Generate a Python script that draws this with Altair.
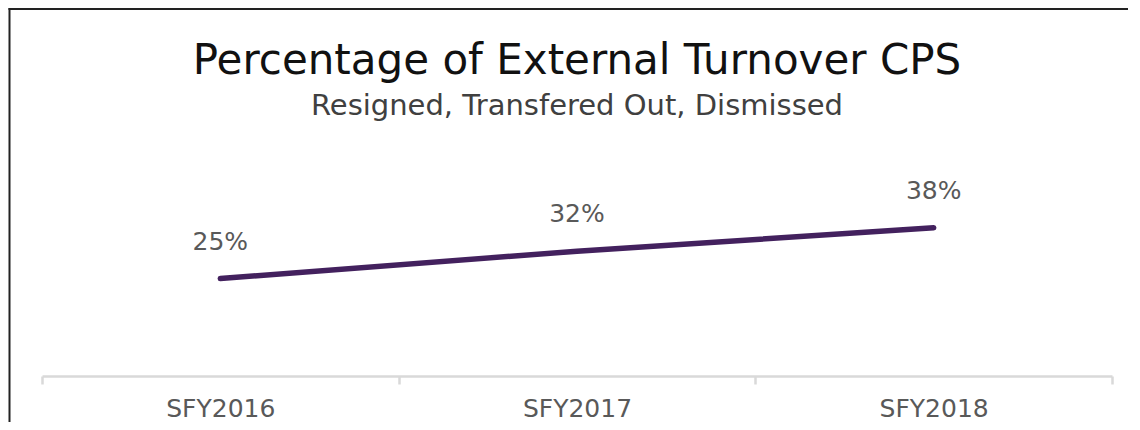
import altair as alt
import pandas as pd

years = ["SFY2016", "SFY2017", "SFY2018"]
rates = [0.25, 0.32, 0.38]
labels = ["25%", "32%", "38%"]

df = pd.DataFrame({"year": years, "rate": rates, "label": labels})

FONT = "DejaVu Sans"

x = alt.X("year:N", sort=years, title=None,
          scale=alt.Scale(paddingInner=0, paddingOuter=0),
          axis=alt.Axis(labelAngle=0, labelFontSize=25, labelColor="#595959", labelFont=FONT,
                        labelPadding=12, domainColor="#d9d9d9", domainWidth=2.5,
                        tickColor="#d9d9d9", tickWidth=2.5, tickSize=8, tickBand="extent",
                        grid=False))
y = alt.Y("rate:Q", scale=alt.Scale(domain=[0, 0.6]), axis=None)

base = alt.Chart(df)

line = base.mark_line(color="#43215e", strokeWidth=5.5, strokeCap="round").encode(x=x, y=y)
text = base.mark_text(dy=-37, fontSize=25, color="#595959", font=FONT).encode(
    x=x, y=y, text="label:N")

frame = alt.Data(values=[{"a": 1}])
left_border = alt.Chart(frame).mark_rule(color="#222222", strokeWidth=2).encode(
    x=alt.value(-32.5), y=alt.value(-134), y2=alt.value(300))
top_border = alt.Chart(frame).mark_rule(color="#222222", strokeWidth=2).encode(
    x=alt.value(-33.5), x2=alt.value(1100), y=alt.value(-133))

chart = alt.layer(line, text, left_border, top_border).properties(
    width=1070, height=234,
    autosize=alt.AutoSizeParams(type="none"),
    padding={"left": 34, "top": 134, "right": 16, "bottom": 46},
    title=alt.TitleParams(
        text="Percentage of External Turnover CPS",
        subtitle="Resigned, Transfered Out, Dismissed",
        font=FONT, fontSize=42, fontWeight="normal", color="#111111",
        subtitleFont=FONT, subtitleFontSize=29, subtitleColor="#404040",
        subtitlePadding=9, anchor="middle", offset=-115),
).configure_view(stroke=None)

chart.save("out.html", embed_options={"renderer": "svg", "actions": False})
